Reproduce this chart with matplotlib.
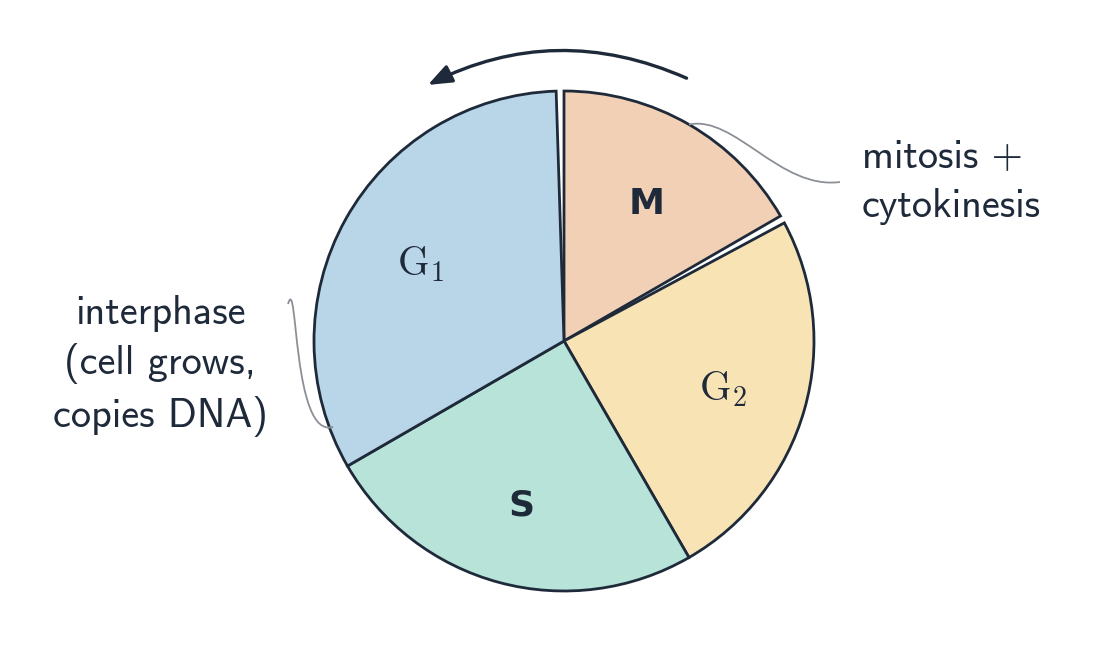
import numpy as np
import matplotlib.pyplot as plt
from matplotlib.path import Path
from matplotlib.patches import PathPatch, FancyArrowPatch

# ---- data -------------------------------------------------------------
PHASES    = ["M", "G2", "S", "G1"]
LABELS    = ["M", r"$\mathrm{G}_2$", "S", r"$\mathrm{G}_1$"]
DURATIONS = [2, 3, 3, 4]          # relative share of the cycle
COLORS    = ["#f2d0b6", "#f8e3b5", "#b8e3d9", "#b8d6e8"]

NOTE_M    = "mitosis +\ncytokinesis"
NOTE_INT  = "interphase\n(cell grows,\ncopies DNA)"

INK  = "#1e2a3a"
GREY = "#8c9096"
PAD  = 1.8   # degrees of white space either side of M

plt.rcParams["mathtext.fontset"] = "cm"


def polar(deg, r):
    a = np.deg2rad(deg)
    return (r * np.cos(a), r * np.sin(a))


fig = plt.figure(figsize=(10.94, 6.69), dpi=100)
ax = fig.add_axes([0, 0, 1, 1])

wedges, texts = ax.pie(
    DURATIONS, labels=LABELS, colors=COLORS,
    startangle=90, counterclock=False, labeldistance=0.66,
    wedgeprops=dict(edgecolor=INK, linewidth=2.0),
    textprops=dict(color=INK, fontsize=29),
)

# small angular gap around the M slice
wedges[1].set_theta2(wedges[1].theta2 - PAD)
wedges[3].set_theta1(wedges[3].theta1 + PAD)

for t, name in zip(texts, PHASES):
    t.set_ha("center")
    t.set_va("center")
    t.set_y(t.get_position()[1] - 0.022)
    if name in ("M", "S"):
        t.set_family("DejaVu Sans")
        t.set_fontweight("bold")
        t.set_fontsize(26)

ax.set_xlim(-2.256, 2.12)
ax.set_ylim(-1.312, 1.364)
ax.set_aspect("auto")
ax.axis("off")

# direction arrow above the pie
arrow = FancyArrowPatch(
    polar(65, 1.16), polar(118, 1.16),
    connectionstyle="arc3,rad=0.236",
    arrowstyle="-|>,head_length=0.9,head_width=0.35",
    mutation_scale=16, lw=2.4, color=INK, shrinkA=0, shrinkB=0,
)
ax.add_patch(arrow)

# connector to the M note
m0 = polar(60, 1.0)
verts = [m0, (0.684, 0.904), (0.864, 0.604), (1.104, 0.636)]
codes = [Path.MOVETO, Path.CURVE4, Path.CURVE4, Path.CURVE4]
ax.add_patch(PathPatch(Path(verts, codes), fc="none", ec=GREY, lw=1.3))

# connector to the interphase note
g0 = polar(200.4, 0.985)
verts = [(-1.104, 0.148), (-1.064, 0.284), (-1.088, -0.396), g0]
ax.add_patch(PathPatch(Path(verts, codes), fc="none", ec=GREY, lw=1.3))

ax.text(1.192, 0.636, NOTE_M, family="cmss10", fontsize=29, color=INK,
        ha="left", va="center", linespacing=1.38)
ax.text(-1.616, -0.1, NOTE_INT, family="cmss10", fontsize=29, color=INK,
        ha="center", va="center", multialignment="center", linespacing=1.38)

fig.savefig("out.png", dpi=100)
